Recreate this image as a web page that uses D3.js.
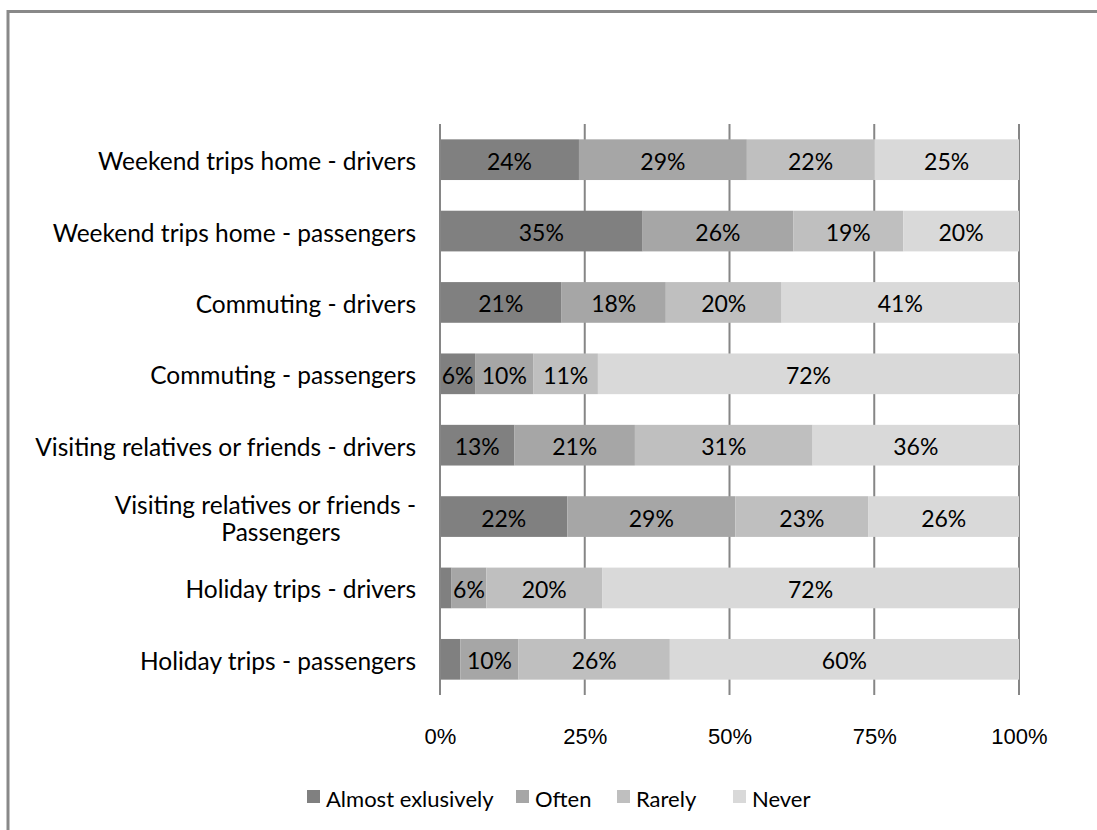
<!DOCTYPE html>
<html>
<head>
<meta charset="utf-8">
<script src="https://cdn.jsdelivr.net/npm/d3@7"></script>
<style>
  html, body { margin: 0; padding: 0; background: #fff; }
  svg { display: block; font-family: Lato, "Open Sans", sans-serif; }
</style>
</head>
<body>
<svg id="chart" width="1097" height="830"></svg>
<script>
// Survey: how often each trip type is made by car-pooling, share of respondents
const categories = [
  "Weekend trips home - drivers",
  "Weekend trips home - passengers",
  "Commuting - drivers",
  "Commuting - passengers",
  "Visiting relatives or friends - drivers",
  "Visiting relatives or friends - Passengers",
  "Holiday trips - drivers",
  "Holiday trips - passengers"
];
const seriesNames = ["Almost exlusively", "Often", "Rarely", "Never"];
const almostExclusively = [24, 35, 21, 6, 13, 22, 2, 3.5];
const often             = [29, 26, 18, 10, 21, 29, 6, 10];
const rarely            = [22, 19, 20, 11, 31, 23, 20, 26];
const never             = [25, 20, 41, 72, 36, 26, 72, 60];
const tickValues = [0, 0.25, 0.5, 0.75, 1];
const seriesColors = ["#808080", "#a6a6a6", "#bfbfbf", "#d9d9d9"];

const svg = d3.select("#chart");

// chart frame
svg.append("path")
  .attr("d", "M8,830 V11.5 H1097")
  .attr("fill", "none")
  .attr("stroke", "#898989")
  .attr("stroke-width", 3);

const plot = { left: 440, right: 1019, top: 124, bottom: 695 };

const rows = categories.map((c, i) => ({
  category: c,
  "Almost exlusively": almostExclusively[i],
  "Often": often[i],
  "Rarely": rarely[i],
  "Never": never[i]
}));

const stack = d3.stack().keys(seriesNames).offset(d3.stackOffsetExpand);
const layers = stack(rows);

const x = d3.scaleLinear().domain([0, 1]).range([plot.left, plot.right]);
const y = d3.scaleBand().domain(categories).range([plot.top, plot.bottom]).paddingInner(0.43).paddingOuter(0.215);
const color = d3.scaleOrdinal().domain(seriesNames).range(seriesColors);

// vertical gridlines
svg.append("g")
  .selectAll("line")
  .data(tickValues)
  .join("line")
  .attr("x1", d => x(d)).attr("x2", d => x(d))
  .attr("y1", plot.top).attr("y2", plot.bottom)
  .attr("stroke", "#868686")
  .attr("stroke-width", 2);

// stacked bars
const layerG = svg.append("g")
  .selectAll("g")
  .data(layers)
  .join("g")
  .attr("fill", d => color(d.key));

layerG.selectAll("rect")
  .data(d => d.map(s => ({ s, key: d.key })))
  .join("rect")
  .attr("x", d => x(d.s[0]))
  .attr("width", d => x(d.s[1]) - x(d.s[0]))
  .attr("y", d => y(d.s.data.category))
  .attr("height", y.bandwidth());

// segment labels
svg.append("g")
  .selectAll("g")
  .data(layers)
  .join("g")
  .selectAll("text")
  .data(d => d.filter(s => s.data[d.key] >= 5).map(s => ({ s, key: d.key })))
  .join("text")
  .attr("x", d => (x(d.s[0]) + x(d.s[1])) / 2)
  .attr("y", d => y(d.s.data.category) + y.bandwidth() / 2 + 1)
  .attr("text-anchor", "middle")
  .attr("dominant-baseline", "central")
  .attr("font-size", 23)
  .attr("fill", "#000")
  .text(d => d3.format(".0f")(d.s.data[d.key]) + "%");

// baseline axis
svg.append("line")
  .attr("x1", plot.left).attr("x2", plot.left)
  .attr("y1", plot.top).attr("y2", plot.bottom)
  .attr("stroke", "#868686").attr("stroke-width", 2);

// x axis tick labels
const xAxis = d3.axisBottom(x).tickValues(tickValues).tickFormat(d3.format(".0%")).tickSize(0).tickPadding(0);
const xg = svg.append("g").attr("transform", `translate(0,${plot.bottom + 33})`).call(xAxis);
xg.select(".domain").remove();
xg.selectAll("text").attr("font-size", 22).attr("fill", "#000").attr("font-family", null);

// category labels (wrapped where Excel wraps)
const labelX = 416;
const catSize = 24.5;
const yAxisG = svg.append("g");
categories.forEach(c => {
  const cy = y(c) + y.bandwidth() / 2 + 1;
  if (c === "Visiting relatives or friends - Passengers") {
    const t = yAxisG.append("text").attr("font-size", catSize).attr("fill", "#000");
    t.append("tspan").attr("x", labelX).attr("y", cy - 13).attr("text-anchor", "end")
      .attr("dominant-baseline", "central").text("Visiting relatives or friends -");
    t.append("tspan").attr("x", labelX - 135).attr("y", cy + 14).attr("text-anchor", "middle")
      .attr("dominant-baseline", "central").text("Passengers");
  } else {
    yAxisG.append("text")
      .attr("x", labelX).attr("y", cy)
      .attr("text-anchor", "end").attr("dominant-baseline", "central")
      .attr("font-size", catSize).attr("fill", "#000")
      .text(c);
  }
});

// legend
const legendItems = [
  { name: seriesNames[0], x: 307 },
  { name: seriesNames[1], x: 516 },
  { name: seriesNames[2], x: 617 },
  { name: seriesNames[3], x: 733 }
];
const legendY = 797;
const lg = svg.append("g").selectAll("g").data(legendItems).join("g")
  .attr("transform", d => `translate(${d.x},${legendY})`);
lg.append("rect").attr("x", 0).attr("y", -7).attr("width", 13).attr("height", 13)
  .attr("fill", d => color(d.name));
lg.append("text").attr("x", 19).attr("y", 1).attr("dominant-baseline", "central")
  .attr("font-size", 22).attr("fill", "#000").text(d => d.name);
</script>
</body>
</html>
